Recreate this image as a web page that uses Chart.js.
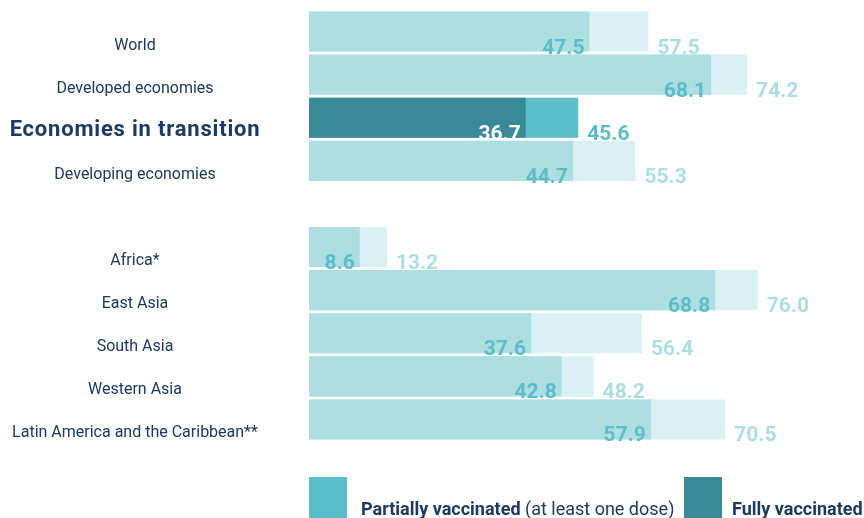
<!DOCTYPE html>
<html>
<head>
<meta charset="utf-8">
<script src="https://cdn.jsdelivr.net/npm/chart.js@4.4.1/dist/chart.umd.min.js"></script>
<style>
  html, body { margin: 0; padding: 0; background: #ffffff; }
  #wrap { width: 864px; height: 518px; position: relative; }
</style>
</head>
<body>
<div id="wrap"><canvas id="vaxChart"></canvas></div>
<script>
// Vaccination rates (% of population)
const categories = [
    'World',
    'Developed economies',
    'Economies in transition',
    'Developing economies',
    '',
    'Africa*',
    'East Asia',
    'South Asia',
    'Western Asia',
    'Latin America and the Caribbean**'
];
const fullyVaccinated = [47.5, 68.1, 36.7, 44.7, null, 8.6, 68.8, 37.6, 42.8, 57.9];
const partiallyVaccinated = [57.5, 74.2, 45.6, 55.3, null, 13.2, 76.0, 56.4, 48.2, 70.5];
const highlightIndex = 2;

const NAVY = '#1b3a63';
const DARK_FULL = '#388a96';
const DARK_PART = '#5bbdc8';
const LIGHT_FULL = '#acdee2';
const LIGHT_PART = '#daf1f3';

const fullColors = categories.map((c, i) => i === highlightIndex ? DARK_FULL : LIGHT_FULL);
const partColors = categories.map((c, i) => i === highlightIndex ? DARK_PART : LIGHT_PART);

// Category names, value labels and legend drawn on the canvas
const annotatePlugin = {
    id: 'annotate',
    afterDatasetsDraw(chart) {
        const ctx = chart.ctx;
        const yScale = chart.scales.y;
        const fullMeta = chart.getDatasetMeta(0);
        const partMeta = chart.getDatasetMeta(1);
        ctx.save();

        // category labels
        categories.forEach((name, i) => {
            if (!name) return;
            const y = yScale.getPixelForValue(i);
            ctx.textAlign = 'center';
            ctx.textBaseline = 'alphabetic';
            ctx.fillStyle = NAVY;
            if (i === highlightIndex) {
                ctx.font = 'bold 22px Roboto';
                ctx.letterSpacing = '0.8px';
            } else {
                ctx.font = '16px Roboto';
                ctx.letterSpacing = '0px';
            }
            ctx.fillText(name, 135, y + 18);
        });
        ctx.letterSpacing = '0px';

        // value labels
        ctx.font = 'bold 21px Roboto';
        fullMeta.data.forEach((bar, i) => {
            if (fullyVaccinated[i] == null) return;
            const part = partMeta.data[i];
            const bottom = bar.y + bar.height / 2 + 2;
            const hi = i === highlightIndex;
            ctx.textAlign = 'right';
            ctx.fillStyle = hi ? '#ffffff' : DARK_PART;
            ctx.fillText(fullyVaccinated[i].toFixed(1), bar.x - 5, bottom);
            ctx.textAlign = 'left';
            ctx.fillStyle = hi ? DARK_PART : LIGHT_FULL;
            ctx.fillText(partiallyVaccinated[i].toFixed(1), part.x + 9, bottom);
        });

        // legend
        ctx.textAlign = 'left';
        ctx.fillStyle = DARK_PART;
        ctx.fillRect(309, 477, 38, 41);
        ctx.fillStyle = DARK_FULL;
        ctx.fillRect(684, 477, 38, 41);
        ctx.fillStyle = NAVY;
        ctx.font = 'bold 18px Roboto';
        ctx.fillText('Partially vaccinated', 361, 515);
        let w = ctx.measureText('Partially vaccinated ').width;
        ctx.font = '18px Roboto';
        ctx.fillText('(at least one dose)', 361 + w, 515);
        ctx.font = 'bold 18px Roboto';
        ctx.fillText('Fully vaccinated', 732, 515);

        ctx.restore();
    }
};

new Chart(document.getElementById('vaxChart'), {
    type: 'bar',
    data: {
        labels: categories,
        datasets: [
            {
                label: 'Fully vaccinated',
                data: fullyVaccinated,
                backgroundColor: fullColors,
                order: 0
            },
            {
                label: 'Partially vaccinated (at least one dose)',
                data: partiallyVaccinated,
                backgroundColor: partColors,
                order: 1
            }
        ]
    },
    options: {
        indexAxis: 'y',
        responsive: true,
        maintainAspectRatio: false,
        animation: false,
        datasets: {
            bar: {
                grouped: false,
                barPercentage: 0.93,
                categoryPercentage: 1.0,
                borderWidth: 0
            }
        },
        layout: {
            padding: { left: 309, right: 0, top: 10, bottom: 77 }
        },
        scales: {
            x: { display: false, min: 0, max: 94 },
            y: { display: false }
        },
        plugins: {
            legend: { display: false },
            tooltip: { enabled: false }
        }
    },
    plugins: [annotatePlugin]
});
</script>
</body>
</html>
